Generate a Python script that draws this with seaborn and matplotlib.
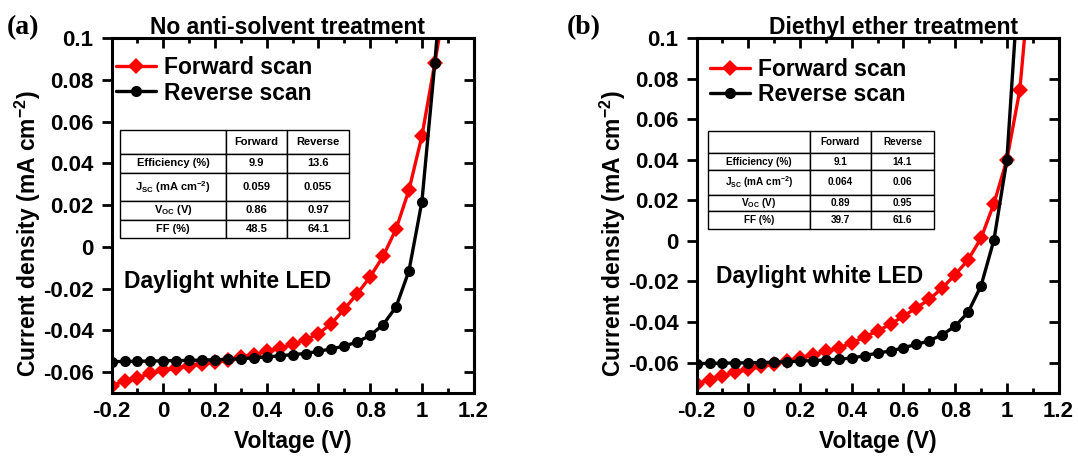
import matplotlib
matplotlib.use("Agg")
import numpy as np
import pandas as pd
import matplotlib.pyplot as plt
import seaborn as sns
from matplotlib.ticker import MultipleLocator, FuncFormatter

# J-V curves, voltage in V, current density in mA cm^-2
volts_a = [-0.2, -0.15, -0.1, -0.05, 0.0, 0.05, 0.1, 0.15, 0.2, 0.25, 0.3, 0.35, 0.4,
           0.45, 0.5, 0.55, 0.6, 0.65, 0.7, 0.75, 0.8, 0.85, 0.9, 0.95, 1.0, 1.05, 1.1]
fwd_a = [-0.0665, -0.0643, -0.0627, -0.0606, -0.0592, -0.0580, -0.0569, -0.0561, -0.0552,
         -0.0541, -0.0529, -0.0516, -0.0501, -0.0486, -0.0467, -0.0445, -0.0416, -0.0368,
         -0.0298, -0.0224, -0.0144, -0.0045, 0.0085, 0.0272, 0.0530, 0.0880, 0.125]
rev_a = [-0.0550, -0.0549, -0.0548, -0.0547, -0.0546, -0.0545, -0.0544, -0.0542, -0.0541,
         -0.0539, -0.0536, -0.0532, -0.0527, -0.0522, -0.0516, -0.0511, -0.0500, -0.0489,
         -0.0475, -0.0456, -0.0424, -0.0373, -0.0288, -0.0115, 0.0216, 0.0880, 0.163]

volts_b_fwd = volts_a
fwd_b = [-0.0706, -0.0684, -0.0664, -0.0648, -0.0634, -0.0618, -0.0606, -0.0593, -0.0577,
         -0.0563, -0.0545, -0.0528, -0.0504, -0.0473, -0.0444, -0.0411, -0.0371, -0.0330,
         -0.0289, -0.0232, -0.0167, -0.0093, 0.0013, 0.0184, 0.0400, 0.0744, 0.145]
volts_b_rev = volts_a[:-1]
rev_b = [-0.0605, -0.0604, -0.0603, -0.0602, -0.0601, -0.0600, -0.0598, -0.0596, -0.0593,
         -0.0590, -0.0587, -0.0583, -0.0578, -0.0566, -0.0553, -0.0543, -0.0527, -0.0510,
         -0.0493, -0.0462, -0.0421, -0.0352, -0.0222, 0.0005, 0.0400, 0.137]

# inset tables
table_cols = ["", "Forward", "Reverse"]
table_rows = ["Efficiency (%)", "J$_{SC}$ (mA cm$^{-2}$)", "V$_{OC}$ (V)", "FF (%)"]
tab_fwd_a = ["9.9", "0.059", "0.86", "48.5"]
tab_rev_a = ["13.6", "0.055", "0.97", "64.1"]
tab_fwd_b = ["9.1", "0.064", "0.89", "39.7"]
tab_rev_b = ["14.1", "0.06", "0.95", "61.6"]

sns.set_theme(style="ticks")
plt.rcParams.update({
    "font.family": ["Liberation Sans", "DejaVu Sans"],
    "font.weight": "bold",
    "axes.labelweight": "bold",
    "axes.unicode_minus": False,
    "mathtext.fontset": "custom",
    "mathtext.rm": "Liberation Sans:bold",
    "mathtext.it": "Liberation Sans:bold",
    "mathtext.bf": "Liberation Sans:bold",
    "axes.edgecolor": "black",
    "axes.linewidth": 2.2,
    "text.color": "black",
    "axes.labelcolor": "black",
    "xtick.color": "black",
    "ytick.color": "black",
})

W, H = 1078, 457
fig = plt.figure(figsize=(W / 100, H / 100), dpi=100)
ax_a = fig.add_axes([111.6 / W, 64 / H, 362 / W, 355 / H])
ax_b = fig.add_axes([696.6 / W, 64 / H, 362 / W, 355 / H])

fmt = FuncFormatter(lambda v, p: f"{round(v, 2) + 0.0:g}")
palette = {"Forward scan": "#ff0000", "Reverse scan": "black"}
markers = {"Forward scan": "D", "Reverse scan": "o"}


def draw_panel(ax, fv, fj, rv, rj, ylim, title, title_x, tfwd, trev, tbox, row_h, col_w,
               tfs, led_xy, leg_xy):
    df = pd.concat([
        pd.DataFrame({"V": fv, "J": fj, "scan": "Forward scan"}),
        pd.DataFrame({"V": rv, "J": rj, "scan": "Reverse scan"}),
    ], ignore_index=True)
    sns.lineplot(data=df, x="V", y="J", hue="scan", style="scan", palette=palette,
                 markers=markers, dashes=False, linewidth=2.4, markersize=8,
                 markeredgewidth=0, ax=ax)
    ax.set_xlim(-0.2, 1.2)
    ax.set_ylim(*ylim)
    ax.xaxis.set_major_locator(MultipleLocator(0.2))
    ax.xaxis.set_minor_locator(MultipleLocator(0.1))
    ax.yaxis.set_major_locator(MultipleLocator(0.02))
    ax.xaxis.set_major_formatter(fmt)
    ax.yaxis.set_major_formatter(fmt)
    ax.tick_params(axis="x", which="both", direction="in", top=True, width=2,
                   labelsize=16, pad=6)
    ax.tick_params(axis="x", which="major", length=7)
    ax.tick_params(axis="x", which="minor", length=3.5)
    ax.tick_params(axis="y", direction="out", length=7, width=2, labelsize=16, pad=6,
                   right=False)
    sec = ax.secondary_yaxis("right")
    sec.yaxis.set_major_locator(MultipleLocator(0.02))
    sec.tick_params(direction="in", length=7, width=2, labelright=False)
    sec.spines["right"].set_linewidth(2.2)

    ax.set_xlabel("Voltage (V)", fontsize=16.5)
    ax.set_ylabel("Current density (mA cm$^{-2}$)", fontsize=16.5)
    ax.xaxis.set_label_coords(0.5, -0.105)
    ax.yaxis.set_label_coords(-0.19, 0.45)
    ax.text(title_x, 1.011, title, transform=ax.transAxes, ha="center", va="baseline",
            fontsize=16.5, fontweight="bold")
    ax.text(led_xy[0], led_xy[1], "Daylight white LED", transform=ax.transAxes,
            ha="left", va="center", fontsize=16.5, fontweight="bold")

    sns.move_legend(ax, "upper left", bbox_to_anchor=leg_xy, frameon=False, title=None,
                    fontsize=16.5, handlelength=1.75, handletextpad=0.35,
                    labelspacing=0.12, borderaxespad=0, borderpad=0)

    cells = [[r, f, v] for r, f, v in zip(table_rows, tfwd, trev)]
    tab = ax.table(cellText=cells, colLabels=table_cols, cellLoc="center",
                   bbox=tbox, colWidths=col_w)
    tab.auto_set_font_size(False)
    tab.set_fontsize(tfs)
    for (r, c), cell in tab.get_celld().items():
        cell.set_linewidth(1.0)
        cell.set_edgecolor("black")
        cell.set_height(row_h[r])
        cell.get_text().set_fontweight("bold")
        cell.get_text().set_color("black")


draw_panel(ax_a, volts_a, fwd_a, volts_a, rev_a, (-0.07, 0.1), "No anti-solvent treatment",
           0.486, tab_fwd_a, tab_rev_a, [0.023, 0.437, 0.633, 0.304],
           [24, 19, 28, 19, 18], [106, 61, 62], 8, (0.034, 0.315), (0.012, 0.95))
draw_panel(ax_b, volts_b_fwd, fwd_b, volts_b_rev, rev_b, (-0.075, 0.1),
           "Diethyl ether treatment", 0.543, tab_fwd_b, tab_rev_b,
           [0.0315, 0.462, 0.624, 0.276], [22, 17, 25, 16, 18], [102, 61, 63], 7.2,
           (0.053, 0.327), (0.037, 0.945))

fig.text(7 / W, 1 - 34 / H, "(a)", family="Liberation Serif", fontweight="bold",
         fontsize=20, va="baseline")
fig.text(567 / W, 1 - 34 / H, "(b)", family="Liberation Serif", fontweight="bold",
         fontsize=20, va="baseline")

fig.savefig("out.png", dpi=100)
